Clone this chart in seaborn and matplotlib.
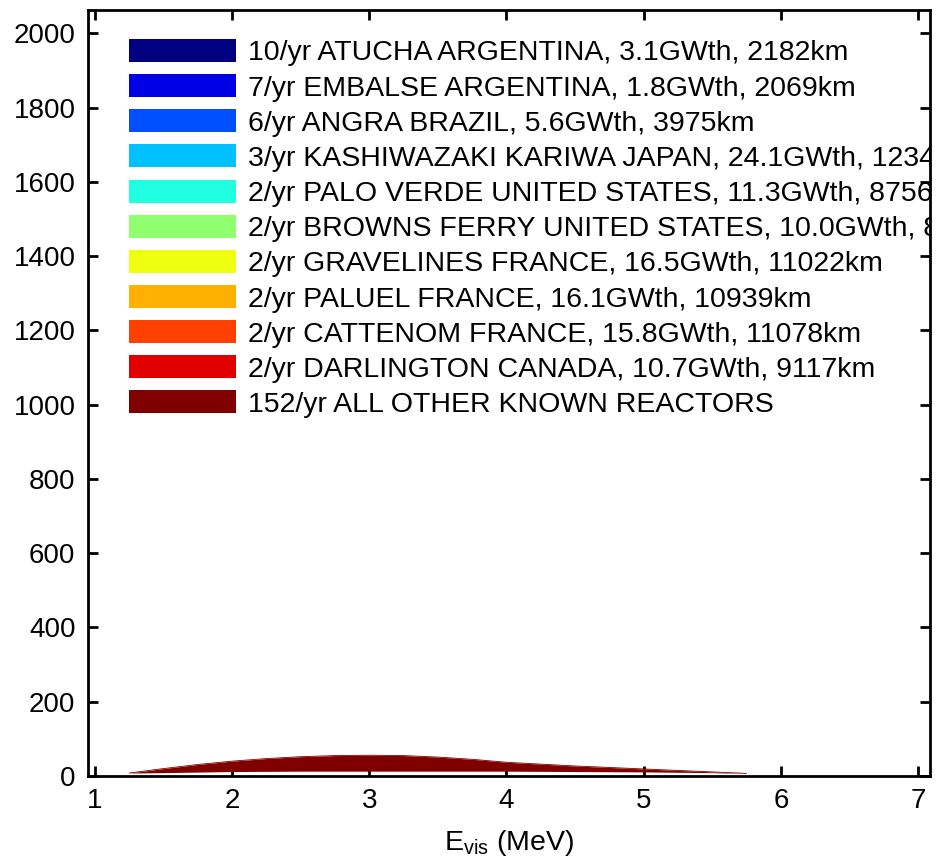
import numpy as np
import pandas as pd
import matplotlib
matplotlib.use("Agg")
import matplotlib.pyplot as plt
from matplotlib.patches import Rectangle
import seaborn as sns

# ---- data ----
energy = [1.25, 1.5, 1.75, 2.0, 2.25, 2.5, 2.75, 3.0, 3.25, 3.5, 3.75,
          4.0, 4.25, 4.5, 4.75, 5.0, 5.25, 5.5, 5.75]
other_top = [8, 20, 31, 40, 47, 52, 55, 56, 55, 51, 45,
             37, 32, 27, 23, 19, 15, 11, 7]
other_bottom = [8, 9, 10.5, 12, 12.5, 13, 13, 13, 13, 13, 13,
                13, 12.5, 12, 11.5, 11, 10, 9, 7]

legend_labels = [
    "10/yr ATUCHA ARGENTINA, 3.1GWth, 2182km",
    "7/yr EMBALSE ARGENTINA, 1.8GWth, 2069km",
    "6/yr ANGRA BRAZIL, 5.6GWth, 3975km",
    "3/yr KASHIWAZAKI KARIWA JAPAN, 24.1GWth, 1234km",
    "2/yr PALO VERDE UNITED STATES, 11.3GWth, 8756km",
    "2/yr BROWNS FERRY UNITED STATES, 10.0GWth, 8900km",
    "2/yr GRAVELINES FRANCE, 16.5GWth, 11022km",
    "2/yr PALUEL FRANCE, 16.1GWth, 10939km",
    "2/yr CATTENOM FRANCE, 15.8GWth, 11078km",
    "2/yr DARLINGTON CANADA, 10.7GWth, 9117km",
    "152/yr ALL OTHER KNOWN REACTORS",
]
legend_colors = ["#000080", "#0000E6", "#0050FF", "#00C0FF", "#20FFE0",
                 "#90FF70", "#F0FF10", "#FFB000", "#FF4000", "#E00000",
                 "#800000"]

x_ticks = [1, 2, 3, 4, 5, 6, 7]
y_ticks = [0, 200, 400, 600, 800, 1000, 1200, 1400, 1600, 1800, 2000]

# ---- style ----
sns.set_style("ticks")
plt.rcParams['font.family'] = ['Liberation Sans', 'DejaVu Sans']
plt.rcParams['mathtext.fontset'] = 'custom'
plt.rcParams['mathtext.rm'] = 'Liberation Sans'
plt.rcParams['text.color'] = 'black'
plt.rcParams['axes.labelcolor'] = 'black'

fig = plt.figure(figsize=(9.37, 8.67), dpi=100)
ax = fig.add_axes([88/937, 1 - 776/867, (930 - 88)/937, (776 - 10)/867])

df = pd.DataFrame({"E": energy, "top": other_top, "bottom": other_bottom})
ax.fill_between(df["E"], df["bottom"], df["top"], color=legend_colors[-1],
                linewidth=0)
sns.lineplot(data=df, x="E", y="top", ax=ax, color=legend_colors[-1],
             linewidth=0.6)

ax.set_xlim(0.95, 7.087)
ax.set_ylim(0, 2063)
ax.set_xticks(x_ticks)
ax.set_yticks(y_ticks)
ax.tick_params(axis='both', which='both', direction='in', length=7, width=2,
               labelsize=20, top=True, right=True, colors='black',
               labelcolor='black')
ax.tick_params(axis='x', pad=9)
ax.tick_params(axis='y', pad=9)
for s in ax.spines.values():
    s.set_visible(True)
    s.set_linewidth(2)
    s.set_color('black')
ax.set_xlabel(r"$\mathregular{E_{vis}}$ (MeV)", fontsize=20.5, labelpad=10,
              color='black')
ax.set_ylabel("")

# ---- legend (clipped by the axes like the original) ----
ax_h = 766.0
y0 = (776 - 50.5) / ax_h
dy = 35.15 / ax_h
for i, (lab, col) in enumerate(zip(legend_labels, legend_colors)):
    yc = y0 - i * dy
    ax.add_patch(Rectangle((41/842, yc - 11.5/ax_h), 107/842, 23/ax_h,
                           transform=ax.transAxes, facecolor=col,
                           edgecolor='none', clip_on=True))
    ax.text(160/842, yc - 10/ax_h, lab, transform=ax.transAxes,
            fontsize=20.5, va='baseline', ha='left', clip_on=True,
            color='black')

fig.savefig("out.png", dpi=100)
